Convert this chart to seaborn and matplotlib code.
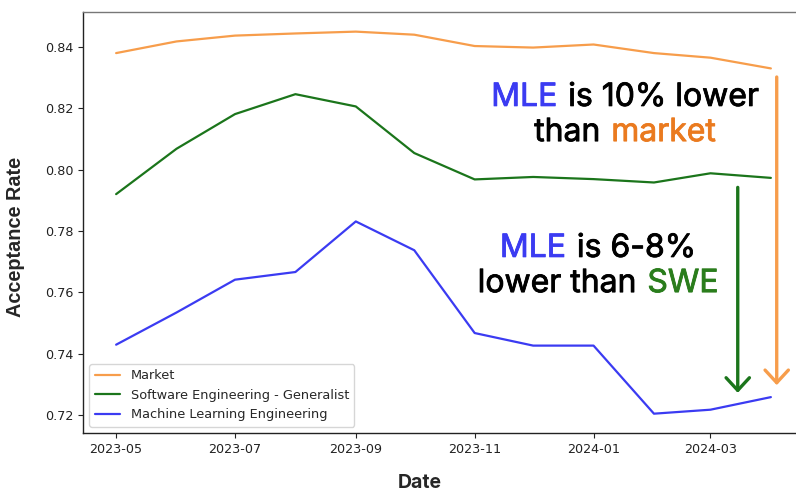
import pandas as pd
import matplotlib
matplotlib.use("Agg")
import matplotlib.pyplot as plt
import matplotlib.patheffects as pe
import seaborn as sns
from matplotlib.offsetbox import TextArea, HPacker, VPacker, AnnotationBbox

# monthly acceptance rates
months = pd.date_range("2023-05-01", "2024-04-01", freq="MS")
market = [0.8380, 0.8418, 0.8437, 0.8444, 0.8450, 0.8440,
          0.8403, 0.8398, 0.8408, 0.8380, 0.8365, 0.8330]
swe = [0.7920, 0.8068, 0.8181, 0.8246, 0.8206, 0.8054,
       0.7968, 0.7976, 0.7969, 0.7958, 0.7988, 0.7973]
mle = [0.7429, 0.7534, 0.7641, 0.7666, 0.7831, 0.7737,
       0.7467, 0.7426, 0.7426, 0.7204, 0.7217, 0.7258]
series_names = ["Market", "Software Engineering - Generalist", "Machine Learning Engineering"]

ORANGE = "#f79d4b"
GREEN = "#1b751b"
BLUE = "#3b3bf2"
TXT_ORANGE = "#ea7a1f"
TXT_GREEN = "#2a7d1c"

df = pd.concat([
    pd.DataFrame({"Date": months, "Acceptance Rate": vals, "Series": name})
    for name, vals in zip(series_names, [market, swe, mle])
])

sns.set_style("ticks")
plt.rcParams["font.family"] = ["DejaVu Sans"]

fig = plt.figure(figsize=(7.96, 4.91), dpi=100)
ax = fig.add_axes([83 / 796, 1 - 433 / 491, 721 / 796, 421 / 491])

sns.lineplot(data=df, x="Date", y="Acceptance Rate", hue="Series",
             palette={series_names[0]: ORANGE, series_names[1]: GREEN, series_names[2]: BLUE},
             linewidth=1.6, ax=ax)

ax.set_ylim(0.7141, 0.8514)
ax.set_xlim(pd.Timestamp("2023-04-14"), pd.Timestamp("2024-04-18"))
xt = ["2023-05", "2023-07", "2023-09", "2023-11", "2024-01", "2024-03"]
ax.set_xticks(pd.to_datetime([t + "-01" for t in xt]))
ax.set_xticklabels(xt)
yt = [0.72, 0.74, 0.76, 0.78, 0.80, 0.82, 0.84]
ax.set_yticks(yt)
ax.set_yticklabels([f"{v:.2f}" for v in yt])
ax.tick_params(labelsize=9.2, length=3.5, color="#222222", labelcolor="#222222")
for s in ax.spines.values():
    s.set_color("#222222")
    s.set_linewidth(1.0)
ax.spines["top"].set_color("#777777")

ax.set_ylabel("Acceptance Rate", fontsize=14.3, fontweight="bold", family="Liberation Sans")
ax.yaxis.set_label_coords(-0.094, 0.466)
ax.yaxis.label.set_va("center")
ax.set_xlabel("Date", fontsize=14, fontweight="bold", family="Inter")
ax.xaxis.set_label_coords(0.467, -0.119)
ax.xaxis.label.set_va("center")

leg = ax.legend(loc="lower left", fontsize=9.3, frameon=True, borderaxespad=0.5,
                handlelength=2.0)
leg.get_frame().set_edgecolor("#cccccc")


def colored_block(lines, xy, size=23):
    rows = []
    for parts in lines:
        boxes = [TextArea(t, textprops=dict(color=c, fontsize=size, family="Inter",
                                            path_effects=[pe.withStroke(linewidth=0.6, foreground=c)]))
                 for t, c in parts]
        rows.append(HPacker(children=boxes, align="baseline", pad=0, sep=8))
    block = VPacker(children=rows, align="center", pad=0, sep=3)
    ab = AnnotationBbox(block, xy, xycoords="figure pixels", frameon=False,
                        box_alignment=(0.5, 0.5))
    fig.add_artist(ab)


colored_block([[("MLE", BLUE), ("is 10% lower", "black")],
               [("than", "black"), ("market", TXT_ORANGE)]], (625, 491 - 115))
colored_block([[("MLE", BLUE), ("is 6-8%", "black")],
               [("lower than", "black"), ("SWE", TXT_GREEN)]], (598, 491 - 266))

arrow_kw = dict(arrowstyle="->,head_width=0.6,head_length=0.65", lw=2.4, mutation_scale=14,
                shrinkA=0, shrinkB=0)
ax.annotate("", xy=(pd.Timestamp("2024-03-15"), 0.7272), xytext=(pd.Timestamp("2024-03-15"), 0.7942),
            arrowprops=dict(color=GREEN, **arrow_kw))
ax.annotate("", xy=(pd.Timestamp("2024-04-04"), 0.7297), xytext=(pd.Timestamp("2024-04-04"), 0.8302),
            arrowprops=dict(color=ORANGE, **arrow_kw))

fig.savefig("out.png", dpi=100)
